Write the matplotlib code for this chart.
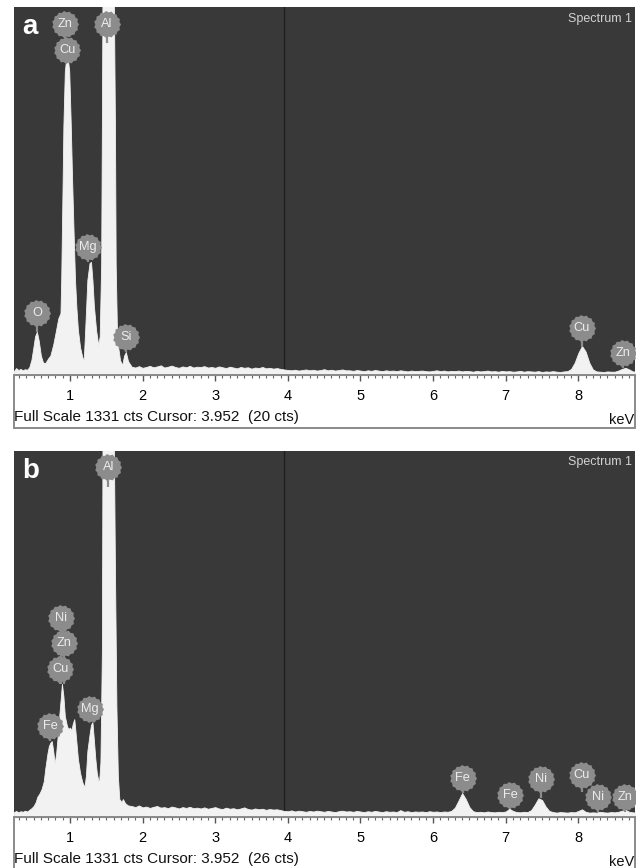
import numpy as np
import matplotlib.pyplot as plt
from matplotlib.patches import Rectangle

plt.rcParams['font.family'] = ['Liberation Sans', 'DejaVu Sans']

FULL_SCALE = 1331
CURSOR_KEV = 3.952
XLIM = (0.23, 8.78)
TICKS = [1, 2, 3, 4, 5, 6, 7, 8]

# ---- panel a ----
# outline of the low-energy part (keV, counts)
A_LOW_KEV = [0.23, 0.26, 0.29, 0.32, 0.35, 0.38, 0.41, 0.44, 0.47, 0.50,
             0.52, 0.545, 0.57, 0.60, 0.63, 0.66, 0.70, 0.73, 0.77, 0.80,
             0.84, 0.87, 0.88, 0.90, 0.91, 0.93, 0.95, 0.97, 0.99, 1.01,
             1.03, 1.05, 1.07, 1.09, 1.11, 1.14, 1.17, 1.19, 1.21, 1.24,
             1.27, 1.29, 1.31, 1.33, 1.36, 1.39, 1.41, 1.43, 1.44, 1.45,
             1.50, 1.55, 1.60, 1.62, 1.63, 1.65, 1.69, 1.72, 1.745, 1.77,
             1.80]
A_LOW_CTS = [15, 25, 18, 22, 17, 21, 19, 28, 55, 105,
             140, 156, 125, 70, 45, 43, 60, 70, 110, 150,
             205, 224, 344, 706, 900, 1100, 1147, 1147, 1100, 920,
             706, 520, 344, 240, 163, 100, 65, 54, 163, 344,
             405, 409, 344, 250, 163, 108, 140, 400, 900, 1500,
             1500, 1500, 1500, 900, 400, 127, 54, 36, 70, 83,
             50]
# counts every 0.05 keV from 1.85 keV upwards
A_HIGH_START = 1.85
A_HIGH_CTS = [30, 27, 32, 26, 29, 33, 28, 31, 35, 27, 30, 34, 29, 26, 31, 28, 33, 27, 30, 29,
              32, 27, 29, 26, 31, 28, 25, 30, 27, 24, 29, 26, 28, 23, 27, 25, 29, 24, 26, 23,
              25, 22, 20, 18, 17, 19, 16, 18, 20, 17, 19, 16, 18, 21, 17, 19, 16, 18, 20, 17,
              17, 15, 18, 16, 14, 17, 15, 18, 16, 14, 17, 15, 16, 14, 17, 15, 13, 16, 14, 15,
              16, 14, 13, 15, 17, 14, 16, 13, 15, 14, 16, 13, 15, 14, 12, 15, 13, 14, 16, 13,
              14, 12, 15, 13, 14, 12, 13, 15, 12, 14, 13, 12, 14, 11, 13, 12, 14, 12, 11, 13,
              14, 22, 45, 80, 105, 85, 45, 20, 13, 12, 11, 13, 12, 12, 16, 22, 26, 20, 13, 12]
A_LABELS = ["O", "Zn", "Cu", "Mg", "Al", "Si", "Cu", "Zn"]
A_LABEL_KEV = [0.55, 0.935, 0.963, 1.25, 1.51, 1.77, 8.05, 8.62]
A_LABEL_CTS = [224, 1270, 1175, 463, 1270, 137, 170, 80]
A_STEM_CTS = [156, 1147, 1147, 409, 1200, 83, 101, 24]
A_CURSOR_CTS = 20

# ---- panel b ----
B_LOW_KEV = [0.23, 0.26, 0.29, 0.32, 0.35, 0.38, 0.41, 0.44, 0.47, 0.50,
             0.53, 0.55, 0.58, 0.61, 0.64, 0.66, 0.69, 0.71, 0.73, 0.75,
             0.77, 0.79, 0.81, 0.83, 0.85, 0.87, 0.89, 0.91, 0.93, 0.96,
             0.98, 1.00, 1.02, 1.04, 1.06, 1.08, 1.11, 1.14, 1.17, 1.20,
             1.22, 1.24, 1.27, 1.29, 1.31, 1.33, 1.35, 1.37, 1.40, 1.42,
             1.44, 1.45, 1.50, 1.55, 1.60, 1.62, 1.64, 1.66, 1.68, 1.71,
             1.73, 1.76, 1.80]
B_LOW_CTS = [18, 22, 17, 21, 19, 23, 20, 26, 32, 40,
             55, 73, 85, 102, 130, 175, 230, 258, 270, 276,
             240, 195, 230, 290, 360, 420, 484, 440, 367, 330,
             320, 325, 316, 340, 356, 300, 211, 160, 127, 109,
             150, 240, 300, 335, 345, 280, 211, 160, 120, 200,
             600, 1500, 1500, 1500, 1500, 900, 400, 150, 65, 55,
             65, 50, 42]
B_HIGH_START = 1.85
B_HIGH_CTS = [40, 36, 42, 35, 38, 33, 37, 40, 34, 36, 32, 38, 35, 31, 36, 33, 37, 32, 34, 31,
              35, 30, 33, 36, 31, 29, 34, 30, 32, 28, 31, 35, 29, 27, 31, 28, 30, 26, 29, 27,
              28, 25, 22, 21, 24, 20, 23, 21, 19, 22, 20, 23, 21, 19, 22, 20, 18, 21, 23, 20,
              21, 19, 22, 20, 18, 21, 19, 22, 20, 18, 21, 19, 20, 18, 25, 19, 21, 18, 20, 19,
              20, 18, 21, 19, 20, 18, 20, 19, 22, 34, 60, 87, 65, 36, 21, 18, 19, 17, 20, 18,
              17, 19, 18, 20, 30, 22, 18, 17, 19, 18, 25, 45, 68, 62, 38, 22, 18, 16, 18, 17,
              16, 18, 17, 22, 28, 19, 16, 17, 16, 19, 17, 16, 18, 17, 19, 23, 26, 19, 17, 16]
B_LABELS = ["Al", "Ni", "Zn", "Cu", "Fe", "Mg", "Fe", "Fe", "Ni", "Cu", "Ni", "Zn"]
B_LABEL_KEV = [1.53, 0.88, 0.92, 0.87, 0.73, 1.28, 6.41, 7.06, 7.48, 8.05, 8.27, 8.64]
B_LABEL_CTS = [1274, 725, 631, 540, 330, 392, 141, 80, 138, 152, 73, 73]
B_STEM_CTS = [1200, 484, 484, 484, 276, 345, 87, 29, 69, 91, 18, 20]
B_CURSOR_CTS = 26

BG = "#393939"
FILL = "#f2f2f2"
CIRCLE = "#8c8c8c"

# serrated disc used for the element tags
_n = 30
_ang = np.linspace(0, 2 * np.pi, _n, endpoint=False)
_r = np.where(np.arange(_n) % 2 == 0, 1.0, 0.9)
TAG = np.column_stack([_r * np.cos(_ang), _r * np.sin(_ang)])

W, H = 640, 868


def fx(px):
    return px / W


def fy(py):
    return 1 - py / H


def panel(fig, top, axis, letter, low_kev, low_cts, hi_start, hi_cts,
          labels, lab_kev, lab_cts, stem_cts, cursor_cts):
    ax = fig.add_axes([fx(14), fy(axis), fx(621), (axis - top) / H])
    ax.set_facecolor(BG)
    hi_kev = hi_start + 0.05 * np.arange(len(hi_cts))
    kev = np.concatenate([low_kev, hi_kev])
    cts = np.concatenate([low_cts, hi_cts])
    ax.axvline(CURSOR_KEV, color="#1e1e1e", lw=1.0, zorder=1)
    ax.fill_between(kev, 0, cts, color=FILL, lw=0.6, edgecolor=FILL, zorder=2)
    for name, x, y, s in zip(labels, lab_kev, lab_cts, stem_cts):
        ax.plot([x, x], [s, y], color=CIRCLE, lw=1.6, zorder=4,
                solid_capstyle="butt")
        ax.plot(x, y, marker=TAG, ms=19.5, mfc=CIRCLE, mec="none", zorder=5)
        ax.text(x, y, name, ha="center", va="center", fontsize=9.2,
                color="#ececec", zorder=6)
    ax.set_xlim(*XLIM)
    ax.set_ylim(0, FULL_SCALE)
    ax.set_xticks(TICKS)
    ax.set_xticks(np.arange(0.3, 8.8, 0.1), minor=True)
    ax.set_yticks([])
    for sp in ("top", "left", "right"):
        ax.spines[sp].set_visible(False)
    ax.spines["bottom"].set_color("#777777")
    ax.spines["bottom"].set_linewidth(0.8)
    ax.tick_params(axis="x", which="major", direction="out", length=4.5,
                   width=1.0, color="#555555", pad=5.5, labelsize=10.5)
    ax.tick_params(axis="x", which="minor", direction="out", length=2.2,
                   width=0.8, color="#666666")
    ax.text(0.014, 0.98, letter, transform=ax.transAxes, fontsize=20,
            fontweight="bold", color="white", ha="left", va="top")
    ax.text(0.995, 0.985, "Spectrum 1", transform=ax.transAxes, fontsize=9,
            color="#d2d2d2", ha="right", va="top")
    # white scale box under the spectrum
    fig.patches.append(Rectangle((fx(14), fy(axis + 53)), fx(621), 53 / H,
                                 transform=fig.transFigure, fill=False,
                                 edgecolor="#8a8a8a", lw=1.4))
    fig.text(fx(14), fy(axis + 42),
             f"Full Scale {FULL_SCALE} cts Cursor: {CURSOR_KEV:.3f}  ({cursor_cts} cts)",
             fontsize=11, ha="left", va="center", color="#111111")
    fig.text(fx(634), fy(axis + 45), "keV", fontsize=10.5, ha="right",
             va="center", color="#111111")
    return ax


fig = plt.figure(figsize=(W / 100, H / 100), dpi=100)
panel(fig, 7, 375, "a", A_LOW_KEV, A_LOW_CTS, A_HIGH_START, A_HIGH_CTS,
      A_LABELS, A_LABEL_KEV, A_LABEL_CTS, A_STEM_CTS, A_CURSOR_CTS)
panel(fig, 451, 817, "b", B_LOW_KEV, B_LOW_CTS, B_HIGH_START, B_HIGH_CTS,
      B_LABELS, B_LABEL_KEV, B_LABEL_CTS, B_STEM_CTS, B_CURSOR_CTS)
fig.savefig("out.png", dpi=100)
